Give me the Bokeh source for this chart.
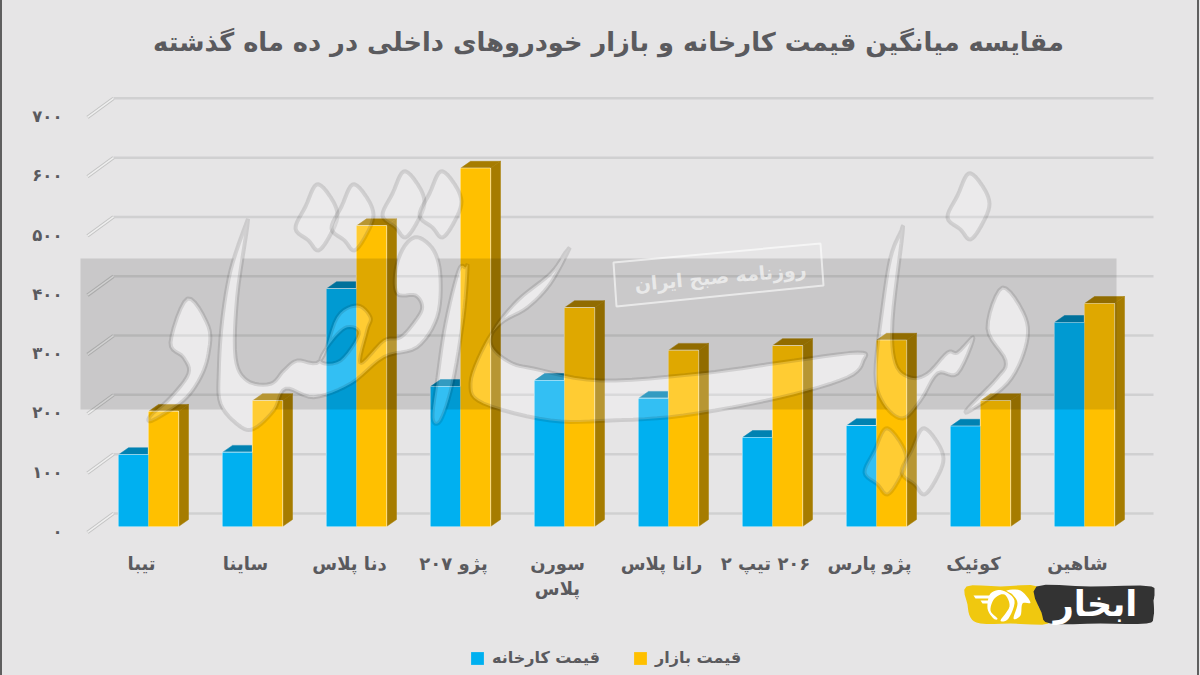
from bokeh.plotting import figure
from bokeh.embed import file_html
from bokeh.resources import INLINE
from bokeh.models import Range1d, LinearAxis, FixedTicker, Legend, LegendItem, Label

TITLE = "مقایسه میانگین قیمت کارخانه و بازار خودروهای داخلی در ده ماه گذشته"
CATEGORIES = ["تیبا", "ساینا", "دنا پلاس", "پژو ۲۰۷", "سورن\nپلاس", "رانا پلاس",
              "\u200f۲۰۶ تیپ ۲\u200f", "پژو پارس", "کوئیک", "شاهین"]
FACTORY = [121, 125, 401, 236, 246, 216, 150, 170, 169, 344]
MARKET = [194, 212, 507, 604, 369, 297, 305, 314, 212, 376]
TICKS = [0, 100, 200, 300, 400, 500, 600, 700]
TICK_LABELS = ["۰", "۱۰۰", "۲۰۰", "۳۰۰", "۴۰۰", "۵۰۰", "۶۰۰", "۷۰۰"]
SERIES_NAMES = ["قیمت کارخانه", "قیمت بازار"]

BG = "#e6e5e6"
TXT = "#5a5a5e"
FONT = "DejaVu Sans"
W, H = 1200, 675
PAGE_L, PAGE_R, PAGE_T, PAGE_B = 62, 1154, 60, 672
AXIS_Y = 540
XPX, YPX = 104.0, 0.593   # pixels per category, pixels per value unit
X0PAGE, Y0PAGE = 148.0, 526.0


def dx(px):
    return (px - X0PAGE) / XPX


def dy(py):
    return (Y0PAGE - py) / YPX


xr = Range1d(dx(PAGE_L), dx(PAGE_R))
yr = Range1d(dy(PAGE_B), dy(PAGE_T))

p = figure(width=W, height=H, output_backend="svg", toolbar_location=None,
           x_range=xr, y_range=yr, x_axis_location=None, y_axis_location=None,
           min_border_left=PAGE_L, min_border_right=W - PAGE_R,
           min_border_top=PAGE_T, min_border_bottom=H - PAGE_B,
           background_fill_color=BG, border_fill_color=BG, outline_line_color=None)
p.grid.visible = False

p.title.text = TITLE
p.title.align = "center"
p.title.text_font = FONT
p.title.text_font_size = "25.7px"
p.title.text_font_style = "bold"
p.title.text_color = TXT
p.title.standoff = 8

# extra ranges: labels sit on the floor's front edge, under the bars' base
FLOOR_DY = 5 / YPX
p.extra_y_ranges = {"floor": Range1d(yr.start + FLOOR_DY, yr.end + FLOOR_DY)}
LABEL_DX = 7 / XPX
p.extra_x_ranges = {"labels": Range1d(xr.start + LABEL_DX, xr.end + LABEL_DX)}

yax = LinearAxis(y_range_name="floor", ticker=FixedTicker(ticks=TICKS),
                 major_label_overrides=dict(zip(TICKS, TICK_LABELS)),
                 axis_line_color=None, major_tick_line_color=None, minor_tick_line_color=None,
                 major_label_standoff=-6, major_label_text_font=FONT, major_label_text_font_style="bold",
                 major_label_text_font_size="16.5px", major_label_text_color=TXT)
p.add_layout(yax, "left")

xax = LinearAxis(x_range_name="labels", ticker=FixedTicker(ticks=list(range(len(CATEGORIES)))),
                 major_label_overrides={i: c for i, c in enumerate(CATEGORIES)},
                 fixed_location=dy(AXIS_Y),
                 axis_line_color=None, major_tick_line_color=None, minor_tick_line_color=None,
                 major_label_standoff=6, major_label_text_font=FONT, major_label_text_font_style="bold",
                 major_label_text_font_size="18px", major_label_text_color=TXT)
p.add_layout(xax, "below")

# walls of the 3D plot
BACK = 22.0
FRONT = -10.0
SLANT_X0, SLANT_X1, GRID_X1 = dx(87), dx(113), dx(1153)
for t in TICKS:
    p.line([SLANT_X1, GRID_X1], [t + BACK, t + BACK], line_color="#d0d0d1", line_width=2.5)
    p.line([SLANT_X0, SLANT_X1], [t + FRONT, t + BACK], line_color="#c4c4c4", line_width=3.5)
    p.line([SLANT_X0, SLANT_X1], [t + FRONT, t + BACK], line_color="#efefef", line_width=1.5)

# bars
BW = 30 / XPX
DX = 10 / XPX
DY = 7 / YPX
idx = list(range(len(CATEGORIES)))
L_F = [i - BW for i in idx]
L_M = [float(i) for i in idx]


def bar_depth(lefts, vals, col):
    rights = [l + BW for l in lefts]
    p.patches([[l, l + DX, r + DX, r] for l, r in zip(lefts, rights)],
              [[v, v + DY, v + DY, v] for v in vals], fill_color=col, line_color=col, line_width=0.5)
    p.patches([[r, r + DX, r + DX, r] for r in rights],
              [[0, DY, v + DY, v] for v in vals], fill_color=col, line_color=col, line_width=0.5)


bar_depth(L_F, FACTORY, "#0082b2")
bar_depth(L_M, MARKET, "#a67c00")
for lefts, vals in ((L_F, FACTORY), (L_M, MARKET)):
    p.quad(left=lefts, right=[l + BW for l in lefts], bottom=[0] * len(vals), top=vals,
           fill_color=None, line_color="#f6f6f6", line_width=1.2)
r_f = p.quad(left=L_F, right=[l + BW for l in L_F], bottom=[0] * len(FACTORY), top=FACTORY,
             fill_color="#00b0f0", line_color=None)
r_m = p.quad(left=L_M, right=[l + BW for l in L_M], bottom=[0] * len(MARKET), top=MARKET,
             fill_color="#ffc000", line_color=None)


# ---- watermark (page-pixel outlines) ------------------------------------------
def smooth(pts, n=6):
    """closed Catmull-Rom through page-pixel points"""
    out = []
    m = len(pts)
    for i in range(m):
        p0, p1, p2, p3 = pts[i - 1], pts[i], pts[(i + 1) % m], pts[(i + 2) % m]
        for k in range(n):
            t = k / n
            out.append(tuple(0.5 * (2 * p1[a] + (p2[a] - p0[a]) * t + (2 * p0[a] - 5 * p1[a] + 4 * p2[a] - p3[a]) * t * t
                             + (3 * p1[a] - p0[a] - 3 * p2[a] + p3[a]) * t ** 3) for a in (0, 1)))
    return out


def clip_y(pts, ylim, keep_below):
    """one half-plane of Sutherland-Hodgman"""
    out = []
    inside = (lambda q: q[1] >= ylim) if keep_below else (lambda q: q[1] <= ylim)
    for i, b in enumerate(pts):
        a = pts[i - 1]
        if inside(a) != inside(b):
            t = (ylim - a[1]) / (b[1] - a[1])
            out.append((a[0] + t * (b[0] - a[0]), ylim))
        if inside(b):
            out.append(b)
    return out


def xs(pts):
    return [dx(a) for a, _ in pts]


def ys(pts):
    return [dy(b) for _, b in pts]


def poly(pts, fill="#ffffff", fa=0.0, line="#ffffff", la=0.0, lw=1.0):
    p.patch(xs(pts), ys(pts), fill_color=fill, fill_alpha=fa, line_color=line, line_alpha=la, line_width=lw)


def z5(*q):
    return [(150 + a / 3, 170 + b / 3) for a, b in q]


BAND_L, BAND_R, BAND_T, BAND_B = 80, 1116, 258, 409
band = [(BAND_L, BAND_T), (BAND_R, BAND_T), (BAND_R, BAND_B), (BAND_L, BAND_B)]

dot = [(0, 0), (13, 11), (21, 30), (14, 50), (2, 66), (-8, 56), (-21, 44), (-11, 22)]
shapes = [
    smooth([(x + a, y + b) for a, b in dot])
    for x, y in [(316, 184), (352, 184), (403, 171), (440, 171), (968, 173), (885, 428), (922, 428)]
]
shapes.append(smooth([(187, 298), (208, 326), (208, 353), (200, 377), (183, 400), (152, 420), (150, 415),
                      (170, 397), (188, 373), (183, 357), (170, 342)]))
saad = smooth(z5((285, 165), (240, 300), (215, 450), (205, 600), (210, 700), (265, 765), (310, 775),
                 (370, 720), (405, 655), (490, 680), (600, 640), (700, 560), (800, 530), (860, 440),
                 (870, 320), (850, 240), (800, 200), (760, 230), (735, 300), (740, 370), (795, 375),
                 (815, 410), (795, 450), (750, 500), (700, 510), (630, 578), (650, 480), (660, 440),
                 (620, 405), (560, 440), (510, 570), (440, 570), (400, 600), (360, 640), (290, 630),
                 (255, 560), (260, 380), (290, 170)))
saad_hole = smooth(z5((625, 490), (590, 470), (545, 510), (510, 572), (570, 570)))
shapes.append(saad)
shapes.append(smooth([(465, 267), (458, 270), (445, 323), (437, 377), (432, 417), (440, 420), (452, 383),
                      (463, 317), (467, 268)]))
shapes.append(smooth([(568, 250), (565, 252), (550, 273), (517, 300), (493, 330), (492, 347), (510, 362),
                      (533, 368), (600, 380), (700, 373), (780, 362), (857, 352), (863, 360), (847, 377),
                      (780, 397), (683, 415), (610, 420), (550, 420), (483, 403), (470, 383), (483, 347),
                      (500, 323), (527, 307), (550, 283)]))
shapes.append(smooth([(900, 232), (890, 257), (882, 307), (875, 373), (883, 403), (902, 418), (920, 400),
                      (937, 373), (957, 373), (973, 337), (957, 352), (947, 352), (927, 373), (910, 377),
                      (895, 363), (892, 320), (902, 233)]))
shapes.append(smooth([(1002, 287), (1025, 317), (1025, 347), (1007, 383), (970, 410), (968, 407), (997, 377),
                      (1005, 360), (987, 328)]))

# band with the letters cut out of it
rings = [band]
for s in shapes + [saad_hole]:
    c = clip_y(clip_y(s, BAND_T, True), BAND_B, False)
    if len(c) > 2:
        rings.append(c)
p.multi_polygons(xs=[[[[xs(r) for r in rings]][0]]], ys=[[[[ys(r) for r in rings]][0]]],
                 fill_color="#000000", fill_alpha=0.125, line_color=None)

# letters: a light veil and a soft outline
for s in shapes:
    if s is saad:
        p.multi_polygons(xs=[[[xs(s), xs(saad_hole)]]], ys=[[[ys(s), ys(saad_hole)]]],
                         fill_color="#ffffff", fill_alpha=0.2, line_color="#000000", line_alpha=0.11, line_width=4)
    else:
        poly(s, fill="#ffffff", fa=0.2, line="#000000", la=0.11, lw=4)

# stamp
poly([(613, 262), (820, 243), (823, 285), (616, 306)], fill="#ffffff", fa=0.02, line="#ffffff", la=0.6, lw=2)
p.add_layout(Label(x=720, y=276, x_units="canvas", y_units="canvas", text="روزنامه صبح ایران", angle=0.09,
                   text_font=FONT, text_font_size="19px", text_font_style="bold", text_color="#ffffff", text_alpha=0.6,
                   text_align="center", text_baseline="middle"))

# ---- publisher's badge ---------------------------------------------------------
poly(smooth([(966, 586), (1000, 586), (1037, 586), (1038, 606), (1048, 623), (1010, 623), (980, 623), (970, 617), (967, 604)], n=4),
     fill="#f0c80f", fa=1)
poly(smooth([(1036, 586), (1090, 586), (1151, 586), (1153, 600), (1153, 616), (1146, 623), (1100, 623), (1050, 623), (1041, 612)], n=4),
     fill="#333333", fa=1)
p.add_layout(Label(x=1095, y=603, x_units="canvas", y_units="canvas", text="ابخار",
                   text_font=FONT, text_font_size="35px", text_font_style="bold", text_color="#ffffff",
                   text_align="center", text_baseline="middle"))
poly([(973, 595), (990, 595), (992, 598), (975, 598)], fill="#ffffff", fa=1)
poly([(980, 600), (990, 600), (990, 603), (982, 603)], fill="#ffffff", fa=1)
poly(smooth([(990, 593), (1002, 590), (1014, 600), (1008, 618), (1000, 620), (1009, 606), (1004, 594), (994, 598), (990, 610), (997, 618), (993, 618), (987, 608)]), fill="#ffffff", fa=1)
poly(smooth([(1006, 590), (1020, 590), (1030, 602), (1022, 603), (1020, 615), (1013, 618), (1017, 603), (1012, 594)]), fill="#ffffff", fa=1)

# ---- legend ----------------------------------------------------------------------
legend = Legend(items=[LegendItem(label=SERIES_NAMES[0], renderers=[r_f]),
                       LegendItem(label=SERIES_NAMES[1], renderers=[r_m])],
                orientation="horizontal", location=(407, 5),
                background_fill_alpha=0, border_line_color=None, spacing=32, glyph_width=16, glyph_height=16,
                label_text_font=FONT, label_text_font_size="16px", label_text_font_style="bold",
                label_text_color=TXT, label_standoff=7, padding=0, margin=0)
p.add_layout(legend, "center")

html = file_html(p, INLINE)
css = ("html,body{margin:0;padding:0;overflow:hidden;background:" + BG + "}"
       "body::before,body::after{content:'';position:fixed;top:0;bottom:0;width:2px;background:#5f5f5f;z-index:9}"
       "body::before{left:0}body::after{right:1px}")
html = html.replace("<head>", "<head><style>" + css + "</style>", 1)
open("out.html", "w").write(html)
